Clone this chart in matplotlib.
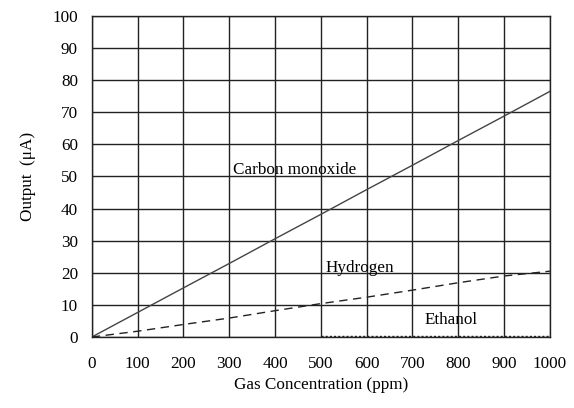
import numpy as np
import matplotlib
matplotlib.use("Agg")
from matplotlib import pyplot as plt

# gas concentration (ppm)
conc = [0, 100, 200, 300, 400, 500, 600, 700, 800, 900, 1000]
# output current (uA)
co_out = [0, 7.65, 15.3, 22.9, 30.6, 38.2, 45.9, 53.5, 61.2, 68.8, 76.5]
h2_out = [0, 1.8, 3.9, 5.9, 8.2, 10.4, 12.4, 14.6, 16.9, 19.0, 20.5]
eth_conc = [500, 600, 700, 800, 900, 1000]
eth_out = [0.3, 0.3, 0.3, 0.3, 0.3, 0.3]

plt.rcParams['font.family'] = ['Liberation Serif', 'DejaVu Serif']
plt.rcParams['font.size'] = 12.3

fig = plt.figure(figsize=(5.74, 4.08), dpi=100)
ax = fig.add_axes([0.160, 0.174, 0.798, 0.787])

ax.plot(conc, co_out, color='#444444', linewidth=1.0)
ax.plot(conc, h2_out, color='#222222', linewidth=1.0, linestyle=(0, (6, 4)))
ax.plot(eth_conc, eth_out, color='#222222', linewidth=1.0, linestyle=(0, (1.5, 1.5)))

ax.text(308, 52, 'Carbon monoxide', ha='left', va='center')
ax.text(511, 21.5, 'Hydrogen', ha='left', va='center')
ax.text(727, 5.3, 'Ethanol', ha='left', va='center')

ax.set_xlim(0, 1000)
ax.set_ylim(0, 100)
ax.set_xticks(np.arange(0, 1001, 100))
ax.set_yticks(np.arange(0, 101, 10))
ax.tick_params(axis='x', length=0, pad=14)
ax.tick_params(axis='y', length=0, pad=10)
ax.grid(True, color='#222222', linewidth=1.0)
for s in ax.spines.values():
    s.set_color('#222222')
    s.set_linewidth(1.0)

ax.set_xlabel('Gas Concentration (ppm)', labelpad=3)
ax.set_ylabel('Output  (\u03bcA)', labelpad=12)

fig.savefig('out.png', dpi=100)
